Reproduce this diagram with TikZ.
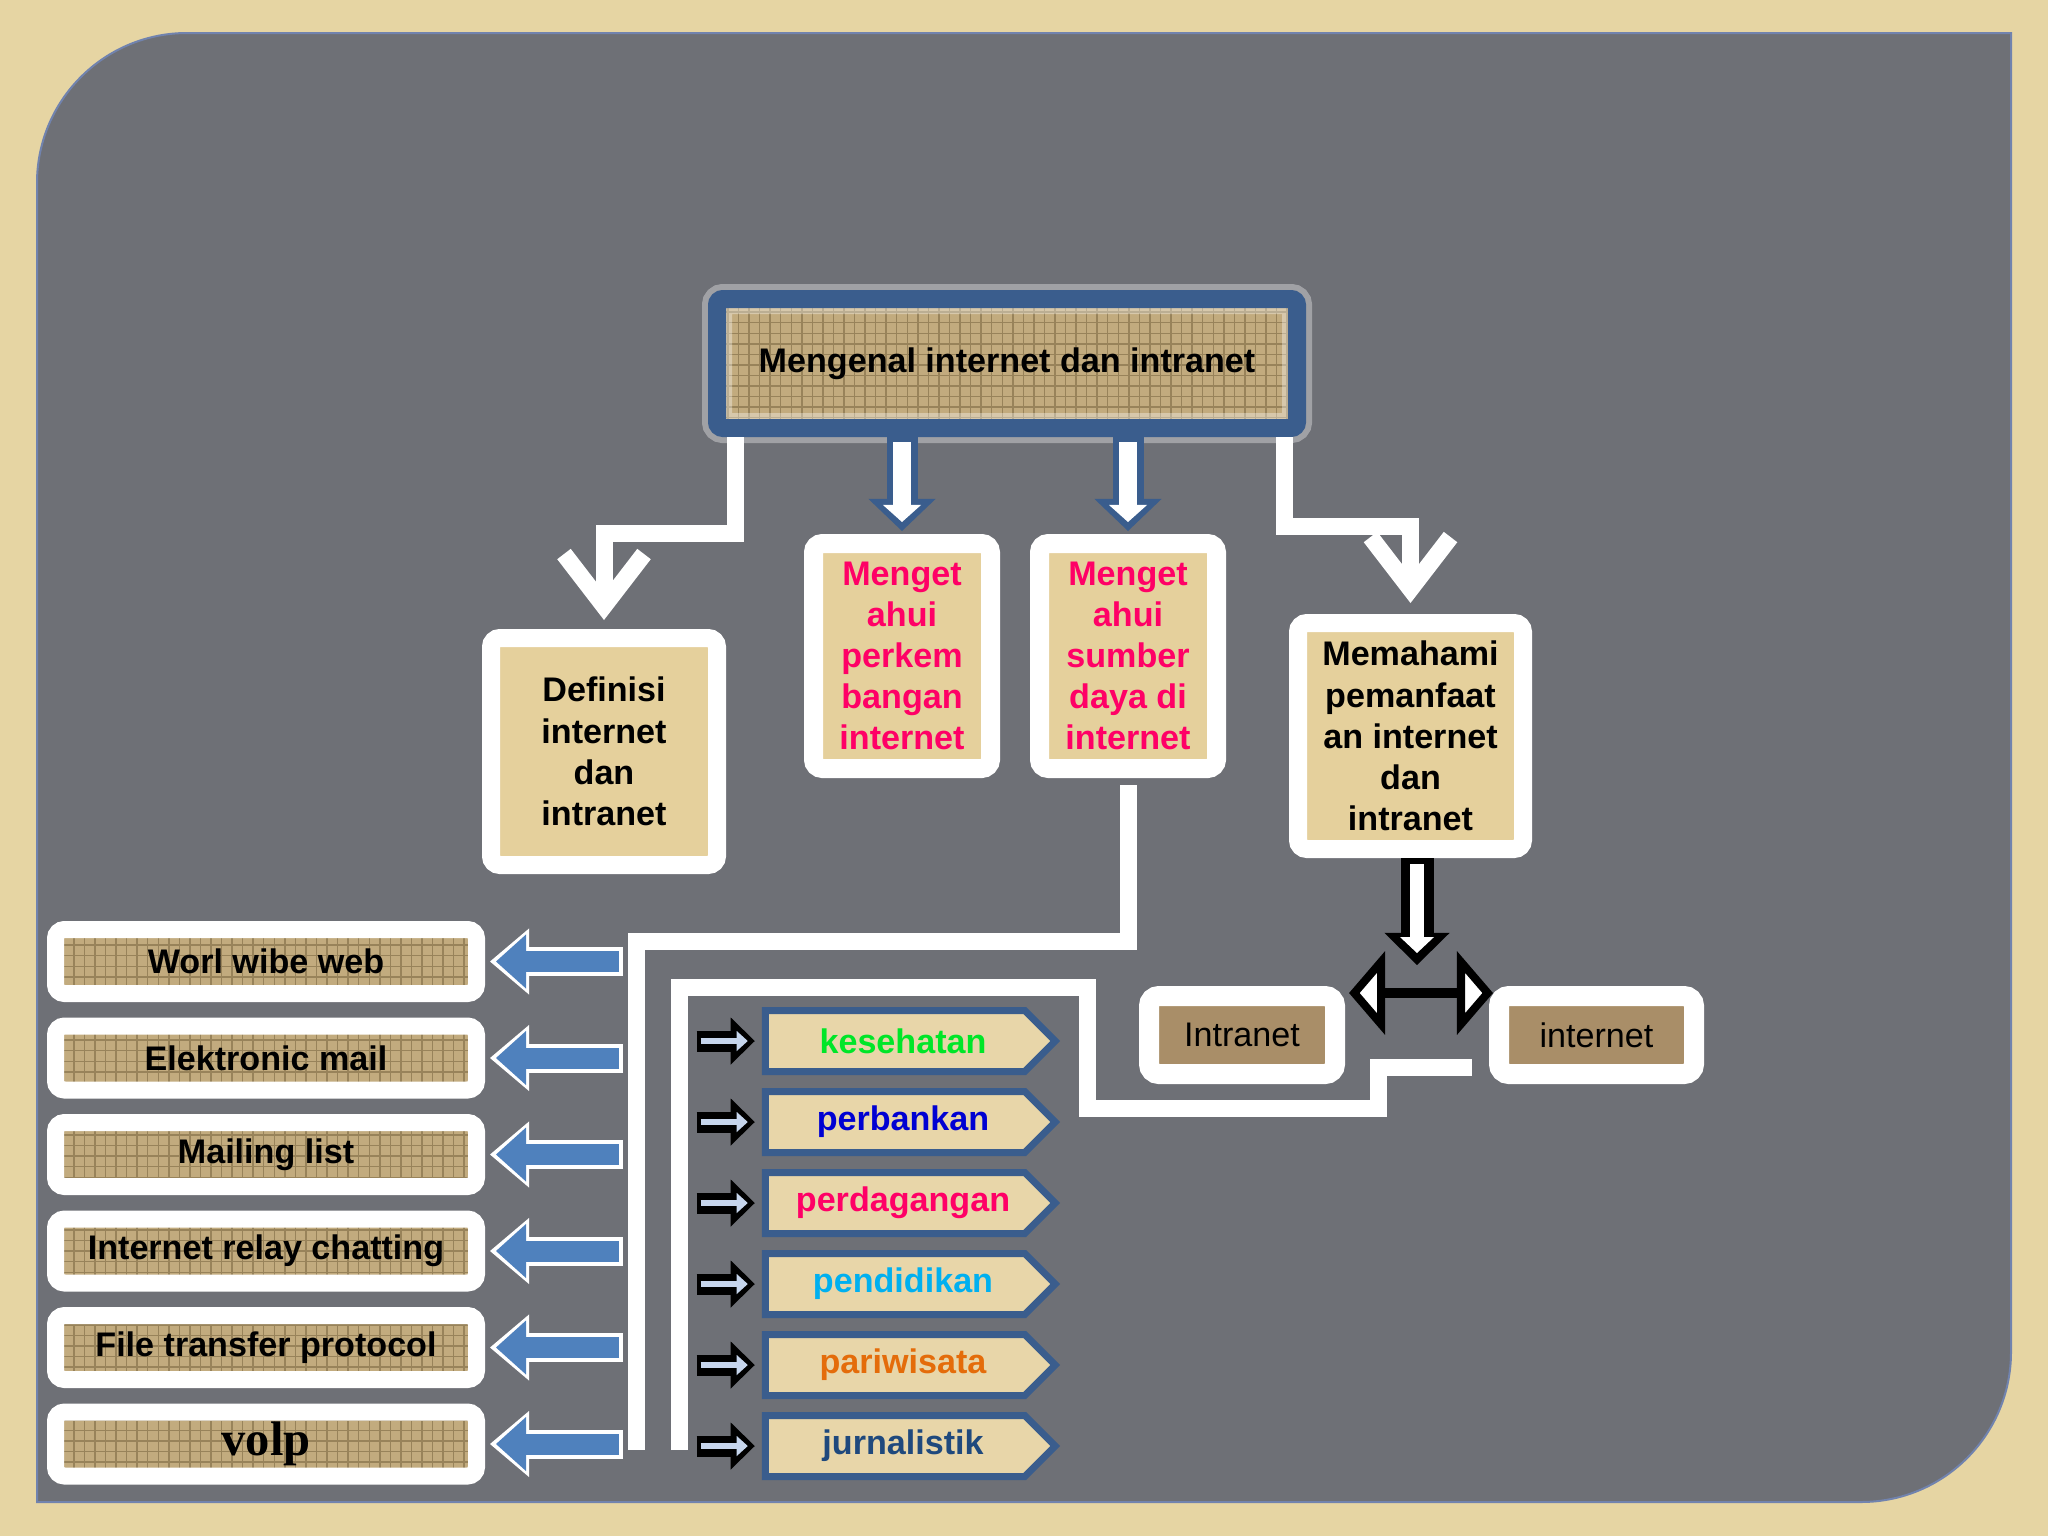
\documentclass[tikz,border=0pt]{standalone}
\usepackage{fontspec}
\setmainfont{Liberation Sans}
\newfontfamily\serifbold{Liberation Serif}
\usepackage{xcolor}
\usetikzlibrary{arrows.meta,shapes.symbols,patterns}

\newlength\pxu
\setlength\pxu{0.01cm}

\definecolor{pagebg}{HTML}{E6D5A3}
\definecolor{panel}{HTML}{6E7076}
\definecolor{panelline}{HTML}{7183AE}
\definecolor{titleblue}{HTML}{3A5D8D}
\definecolor{arrowblue}{HTML}{4F81BD}
\definecolor{burlap}{HTML}{C2AB7E}
\definecolor{burlapdark}{HTML}{98835A}
\definecolor{papyrus}{HTML}{E5D09C}
\definecolor{catfill}{HTML}{E8D6A9}
\definecolor{rough}{HTML}{A98E68}
\definecolor{pink}{HTML}{FF0066}
\definecolor{lightarrow}{HTML}{C6D5EC}

% arrow tip sizes are in cm (1 px = 0.01cm)
\tikzset{
  txt/.style={font=\fontsize{9.7}{11.7}\selectfont\bfseries, align=center, inner sep=0pt},
  burlapfill/.style={preaction={fill=burlap}, preaction={pattern=grid, pattern color=burlapdark}},
  titlebox/.style={txt, burlapfill, draw=titleblue, line width=18\pxu, rounded corners=6\pxu,
    minimum width=580\pxu, minimum height=129\pxu},
  paperbox/.style={txt, draw=white, fill=papyrus, line width=18\pxu, rounded corners=9\pxu},
  listbox/.style={txt, burlapfill, draw=white, line width=17\pxu, rounded corners=9\pxu,
    minimum width=421\pxu, minimum height=64\pxu},
  netbox/.style={txt, font=\fontsize{9.7}{11.7}\selectfont, draw=white, fill=rough,
    line width=20\pxu, rounded corners=10\pxu, minimum height=78\pxu},
  catbox/.style={txt, signal, signal to=east, signal pointer angle=90, draw=titleblue,
    fill=catfill, line width=7\pxu, minimum width=290\pxu, minimum height=61\pxu,
    execute at begin node=\hspace*{0.16cm}},
  whiteline/.style={draw=white, line width=17\pxu},
  chevron/.style={whiteline, -{Straight Barb[length=0.52cm, width=0.8cm]}},
  bluedown/.style={draw=white, line width=18\pxu, shorten <=5\pxu, shorten >=9\pxu,
    -{Triangle[length=0.17cm, width=0.38cm, line width=0pt]},
    preaction={draw=titleblue, line width=31\pxu, shorten <=0pt, shorten >=0pt,
      -{Triangle[length=0.32cm, width=0.67cm, line width=0pt]}}},
  blackdown/.style={draw=white, line width=14\pxu, shorten <=6\pxu, shorten >=12\pxu,
    -{Triangle[length=0.16cm, width=0.34cm, line width=0pt]},
    preaction={draw=black, line width=33\pxu, shorten <=0pt, shorten >=0pt,
      -{Triangle[length=0.32cm, width=0.65cm, line width=0pt]}}},
  blueleft/.style={draw=arrowblue, line width=21\pxu, shorten <=4\pxu, shorten >=6\pxu,
    -{Triangle[length=0.30cm, width=0.54cm, line width=0pt]},
    preaction={draw=white, line width=29\pxu, shorten <=0pt, shorten >=0pt,
      -{Triangle[length=0.39cm, width=0.66cm, line width=0pt]}}},
  catarrow/.style={draw=lightarrow, line width=6\pxu, shorten <=4\pxu, shorten >=7\pxu,
    -{Triangle[length=0.11cm, width=0.2cm, line width=0pt]},
    preaction={draw=black, line width=21\pxu, shorten <=0pt, shorten >=0pt,
      -{Triangle[length=0.24cm, width=0.47cm, line width=0pt]}}},
  dblarrow/.style={draw=black, line width=10\pxu,
    {Triangle[fill=white, length=0.36cm, width=0.82cm, line width=0.08cm]}-{Triangle[fill=white, length=0.36cm, width=0.82cm, line width=0.08cm]}}
}

\begin{document}
\begin{tikzpicture}[x=0.01cm, y=-0.01cm]
    \useasboundingbox (0,0) rectangle (2048,1536);
    % background and panel
    \fill[pagebg] (0,0) rectangle (2048,1536);
    \filldraw[fill=panel, draw=panelline, line width=2\pxu] (37,1502) -- (37,183)
        arc[start angle=180, end angle=270, radius=150] -- (2011,33) -- (2011,1352)
        arc[start angle=0, end angle=90, radius=150] -- cycle;

    % top level
    \node[titlebox, preaction={draw=white, draw opacity=.35, line width=30\pxu}] (judul) at (1007,363.5) {Mengenal internet dan intranet};
    \node[paperbox, minimum width=226\pxu, minimum height=227\pxu] (definisi) at (604,751.5) {Definisi\\internet\\dan\\intranet};
    \node[paperbox, text=pink, line width=19\pxu, minimum width=177\pxu, minimum height=225\pxu] (perkem) at (902,656) {Menget\\ahui\\perkem\\bangan\\internet};
    \node[paperbox, text=pink, line width=19\pxu, minimum width=177\pxu, minimum height=225\pxu] (sumber) at (1128,656) {Menget\\ahui\\sumber\\daya di\\internet};
    \node[paperbox, minimum width=225\pxu, minimum height=226\pxu] (memahami) at (1410.5,736) {Memahami\\pemanfaat\\an internet\\dan\\intranet};

    \draw[chevron] ([xshift=0.27cm]judul.south west) -- ++(0,96) -| ([yshift=0.09cm]definisi.north);
    \draw[chevron] ([xshift=-0.22cm]judul.south east) -- ++(0,89) -| ([yshift=0.11cm]memahami.north);
    \draw[bluedown] (judul.south -| perkem.north) -- ([yshift=0.03cm]perkem.north);
    \draw[bluedown] (judul.south -| sumber.north) -- ([yshift=0.03cm]sumber.north);

    % intranet and internet
    \node[netbox, minimum width=186\pxu] (intranet) at (1242,1035) {Intranet};
    \node[netbox, minimum width=195\pxu] (internet) at (1596.5,1035) {internet};
    \coordinate (split) at (1417,965);
    \draw[blackdown] (memahami.south -| split) -- (split);
    \draw[dblarrow] ([xshift=0.04cm,yshift=-0.07cm]intranet.north east) -- ([xshift=0.04cm,yshift=-0.07cm]internet.north west);

    % services on the left
    \node[listbox] (www) at (266,961.5) {Worl wibe web};
    \node[listbox] (email) at (266,1058) {Elektronic mail};
    \node[listbox] (milis) at (266,1154.5) {Mailing list};
    \node[listbox] (irc) at (266,1251) {Internet relay chatting};
    \node[listbox] (ftp) at (266,1347.5) {File transfer protocol};
    \node[listbox, font=\serifbold\bfseries\fontsize{13.8}{16}\selectfont] (volp) at (266,1444) {volp};

    \coordinate (leftbase) at (636,1450);
    \draw[whiteline] ([yshift=-0.07cm]sumber.south) -- ++(0,156) -| (leftbase);
    \draw[blueleft] ([xshift=1.38cm]www.east) -- ([xshift=0.05cm]www.east);
    \draw[blueleft] ([xshift=1.38cm]email.east) -- ([xshift=0.05cm]email.east);
    \draw[blueleft] ([xshift=1.38cm]milis.east) -- ([xshift=0.05cm]milis.east);
    \draw[blueleft] ([xshift=1.38cm]irc.east) -- ([xshift=0.05cm]irc.east);
    \draw[blueleft] ([xshift=1.38cm]ftp.east) -- ([xshift=0.05cm]ftp.east);
    \draw[blueleft] ([xshift=1.38cm]volp.east) -- ([xshift=0.05cm]volp.east);

    % uses on the right
    \node[catbox, text={rgb,255:red,0;green,230;blue,40}] (sehat) at (895,1041) {kesehatan};
    \node[catbox, text={rgb,255:red,0;green,0;blue,210}] (bank) at (895,1122) {perbankan};
    \node[catbox, text=pink] (dagang) at (895,1203) {perdagangan};
    \node[catbox, text={rgb,255:red,0;green,176;blue,240}] (didik) at (895,1284) {pendidikan};
    \node[catbox, text={rgb,255:red,228;green,108;blue,10}] (wisata) at (895,1365) {pariwisata};
    \node[catbox, text={rgb,255:red,31;green,73;blue,125}] (jurnal) at (895,1446) {jurnalistik};

    \coordinate (rightbase) at (679,1450);
    \draw[whiteline] (rightbase) |- (1087,987) |- (1378,1108) |- ([xshift=-0.17cm,yshift=0.17cm]internet.south west);
    \draw[catarrow] ([xshift=-0.65cm]sehat.west) -- ([xshift=-0.07cm]sehat.west);
    \draw[catarrow] ([xshift=-0.65cm]bank.west) -- ([xshift=-0.07cm]bank.west);
    \draw[catarrow] ([xshift=-0.65cm]dagang.west) -- ([xshift=-0.07cm]dagang.west);
    \draw[catarrow] ([xshift=-0.65cm]didik.west) -- ([xshift=-0.07cm]didik.west);
    \draw[catarrow] ([xshift=-0.65cm]wisata.west) -- ([xshift=-0.07cm]wisata.west);
    \draw[catarrow] ([xshift=-0.65cm]jurnal.west) -- ([xshift=-0.07cm]jurnal.west);
\end{tikzpicture}
\end{document}
